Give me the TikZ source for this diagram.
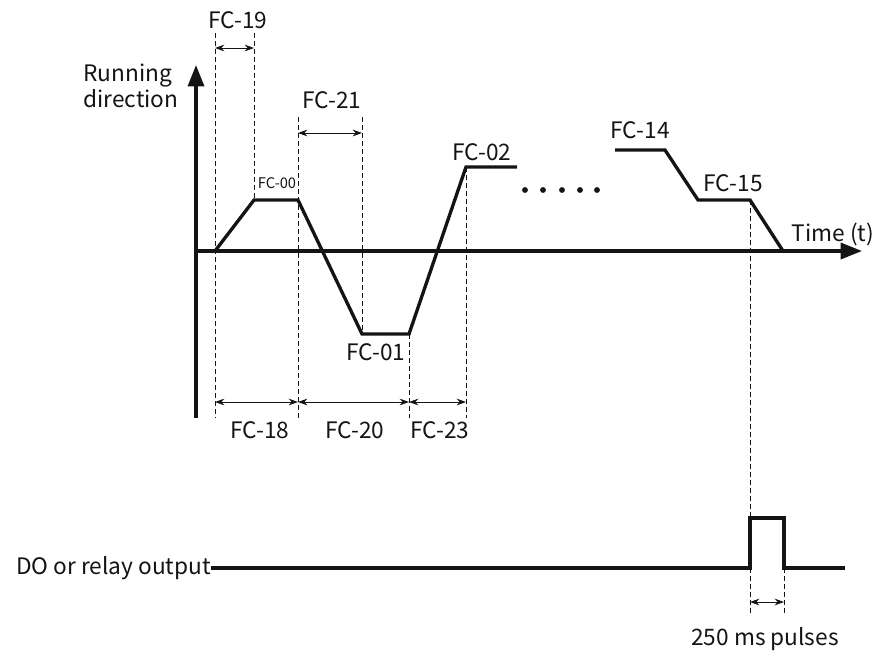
\documentclass[tikz,border=0pt]{standalone}
\usepackage{fontspec}
\setmainfont{Noto Sans CJK SC}
\usetikzlibrary{arrows.meta,positioning,calc}
\definecolor{ink}{RGB}{20,20,20}
\tikzset{
  >={Stealth[length=7pt,width=5pt]},
  wave/.style={line width=2.5pt,draw=ink,line join=miter},
  runaxis/.style={line width=2.5pt,draw=ink,-{Triangle[length=16pt,width=12pt]}},
  guide/.style={draw=ink,line width=0.6pt,dash pattern=on 3.5pt off 2.5pt},
  span/.style={<->,draw=ink,line width=0.7pt},
  tag/.style={font=\fontsize{17}{20}\selectfont,text=ink,inner sep=1pt},
  tag small/.style={font=\fontsize{11}{13}\selectfont,text=ink,inner sep=1pt},
}

\begin{document}
\begin{tikzpicture}[x=0.75pt,y=-0.75pt]
  \useasboundingbox (0,0) rectangle (873,654);
  % axes
  \coordinate (o) at (196,251);
  \coordinate (ytop) at (196,65);
  \coordinate (ybot) at (196,418);
  \coordinate (xend) at (862,251);
  \draw[runaxis] (ybot) -- (ytop);
  \draw[runaxis] (o) -- (xend);
  \node[tag,align=left,anchor=east] (dir) at (180,86) {Running\\direction};
  \node[tag,anchor=west] (time) at (790,234) {Time (t)};

  % speed profile
  \coordinate (a0) at (215,251); \coordinate (a1) at (254,200);
  \coordinate (a2) at (298,200); \coordinate (a3) at (362,334);
  \coordinate (a4) at (409,334); \coordinate (a5) at (466,167);
  \coordinate (a6) at (517,167);
  \draw[wave] (a0) -- (a1) -- (a2) -- (a3) -- (a4) -- (a5) -- (a6);
  \coordinate (b0) at (615,150); \coordinate (b1) at (665,150);
  \coordinate (b2) at (698,200); \coordinate (b3) at (750,200);
  \coordinate (b4) at (783,251);
  \draw[wave] (b0) -- (b1) -- (b2) -- (b3) -- (b4);
  \foreach \x in {525,543,562,580,597} \fill[ink] (\x,190) circle[radius=2.2pt];

  % guides
  \draw[guide] (215,33) -- (215,418);
  \draw[guide] (254,33) -- (a1);
  \draw[guide] (298,117) -- (298,418);
  \draw[guide] (362,117) -- (a3);
  \draw[guide] (a4) -- (409,418);
  \draw[guide] (a5) -- (466,418);

  % spans
  \draw[span] (215,48) -- (254,48);
  \draw[span] (298,133) -- (362,133);
  \draw[span] (215,402) -- (298,402);
  \draw[span] (298,402) -- (409,402);
  \draw[span] (409,402) -- (466,402);

  \node[tag] (fc19) at (238,20) {FC-19};
  \node[tag] (fc21) at (332,100) {FC-21};
  \node[tag small] (fc00) at (277,183) {FC-00};
  \node[tag] (fc01) at (376,352) {FC-01};
  \node[tag] (fc02) at (482,152) {FC-02};
  \node[tag] (fc14) at (640,130) {FC-14};
  \node[tag] (fc15) at (733,183) {FC-15};
  \node[tag] (fc18) at (260,430) {FC-18};
  \node[tag] (fc20) at (355,430) {FC-20};
  \node[tag] (fc23) at (440,430) {FC-23};

  % relay output
  \node[tag,anchor=east,inner sep=0pt] (do) at (211,568) {DO or relay output};
  \coordinate (p0) at (750,568); \coordinate (p1) at (750,518);
  \coordinate (p2) at (784,518); \coordinate (p3) at (784,568);
  \coordinate (pend) at (845,568);
  \draw[wave] (do.east) -- (p0) -- (p1) -- (p2) -- (p3) -- (pend);
  \draw[guide] (b3) -- (p1);
  \draw[guide] (p0) -- (750,615);
  \draw[guide] (p3) -- (784,615);
  \draw[span] (750,602) -- (784,602);
  \node[tag] (pulse) at (765,639) {250 ms pulses};
\end{tikzpicture}
\end{document}
